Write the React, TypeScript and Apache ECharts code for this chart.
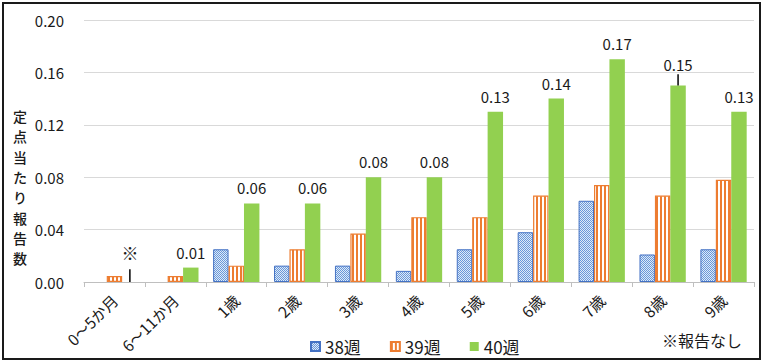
import React, { useEffect, useRef } from "react";
import * as echarts from "echarts";

const categories = ["0～5か月", "6～11か月", "1歳", "2歳", "3歳", "4歳", "5歳", "6歳", "7歳", "8歳", "9歳"];
const seriesNames = ["38週", "39週", "40週"];
const values38 = [0, 0, 0.025, 0.0125, 0.0125, 0.0085, 0.025, 0.038, 0.062, 0.021, 0.025];
const values39 = [0.0045, 0.0045, 0.0125, 0.025, 0.037, 0.0495, 0.0495, 0.066, 0.074, 0.066, 0.078];
const values40: (number | null)[] = [null, 0.011, 0.06, 0.06, 0.08, 0.08, 0.13, 0.14, 0.17, 0.15, 0.13];
// [category index, line bottom value, line top value]
const leaderLines = [
  [0, 0, 0.0098],
  [9, 0.15, 0.1585],
];
const noReportMark = "※";
const noReportNote = "※報告なし";
const yAxisTitle = "定点当たり報告数";

const FONT = "'Noto Sans CJK JP', 'Noto Sans', sans-serif";
const TXT = "#1a1a1a";
const CAT_GAP = 0.24;

function stripePattern() {
  const c = document.createElement("canvas");
  c.width = 4;
  c.height = 4;
  const ctx = c.getContext("2d")!;
  ctx.fillStyle = "#ffffff";
  ctx.fillRect(0, 0, 4, 4);
  ctx.fillStyle = "#ED7D31";
  ctx.fillRect(0, 0, 2, 4);
  return c;
}
function dotPattern() {
  const c = document.createElement("canvas");
  c.width = 2;
  c.height = 2;
  const ctx = c.getContext("2d")!;
  ctx.fillStyle = "#DEEBF7";
  ctx.fillRect(0, 0, 2, 2);
  ctx.fillStyle = "#6A97DA";
  ctx.fillRect(0, 0, 1, 1);
  ctx.fillRect(1, 1, 1, 1);
  return c;
}

export default function App() {
  const ref = useRef<HTMLDivElement>(null);
  useEffect(() => {
    if (!ref.current) return;
    const chart = echarts.init(ref.current, null, { renderer: "svg" });
    const data38 = values38.map((v) => (v === 0 ? { value: v, itemStyle: { borderWidth: 0 } } : v));
    const data40 = values40.map((v, i) =>
      categories[i] === "8歳" ? { value: v, label: { offset: [0, -6] } } : v
    );
    const titleChars = yAxisTitle.split("").map((ch, i) => ({
      type: "text",
      x: 20,
      y: 116 + i * 20.3,
      silent: true,
      style: {
        text: ch,
        fontSize: 14,
        fontWeight: 500,
        align: "center",
        verticalAlign: "middle",
        fill: TXT,
        fontFamily: FONT,
      },
    }));
    chart.setOption({
      animation: false,
      backgroundColor: "#ffffff",
      textStyle: { fontFamily: FONT },
      grid: { left: 84, right: 10, top: 20, bottom: 80 },
      legend: {
        data: seriesNames,
        left: 305,
        top: 333,
        icon: "rect",
        itemWidth: 9,
        itemHeight: 9,
        itemGap: 29,
        textStyle: { fontSize: 17, color: TXT, fontFamily: FONT },
      },
      xAxis: {
        type: "category",
        data: categories,
        axisLine: { lineStyle: { color: "#BFBFBF", width: 1 } },
        axisTick: { show: true, interval: 0, length: 5, lineStyle: { color: "#BFBFBF" } },
        axisLabel: { interval: 0, rotate: 45, fontSize: 15.5, color: TXT, margin: 15, fontFamily: FONT },
      },
      yAxis: {
        type: "value",
        min: 0,
        max: 0.2,
        interval: 0.04,
        axisLine: { show: false },
        axisTick: { show: false },
        splitLine: { lineStyle: { color: "#D9D9D9", width: 1 } },
        axisLabel: {
          formatter: (v: number) => v.toFixed(2),
          fontSize: 15,
          color: TXT,
          margin: 20,
          fontFamily: FONT,
        },
      },
      series: [
        {
          name: seriesNames[0],
          type: "bar",
          data: data38,
          barGap: "0%",
          barCategoryGap: CAT_GAP * 100 + "%",
          itemStyle: {
            color: { image: dotPattern(), repeat: "repeat" },
            borderColor: "#4472C4",
            borderWidth: 1,
          },
        },
        {
          name: seriesNames[1],
          type: "bar",
          data: values39,
          barGap: "0%",
          barCategoryGap: CAT_GAP * 100 + "%",
          itemStyle: {
            color: { image: stripePattern(), repeat: "repeat" },
            borderColor: "#ED7D31",
            borderWidth: 1.2,
          },
        },
        {
          name: seriesNames[2],
          type: "bar",
          data: data40,
          barGap: "0%",
          barCategoryGap: CAT_GAP * 100 + "%",
          itemStyle: { color: "#92D050" },
          label: {
            show: true,
            position: "top",
            distance: 8,
            fontSize: 15,
            color: TXT,
            fontFamily: FONT,
            formatter: (p: any) => Number(p.value).toFixed(2),
          },
        },
        {
          type: "custom",
          silent: true,
          z: 5,
          data: leaderLines,
          renderItem: (params: any, api: any) => {
            const p0 = api.coord([api.value(0), api.value(1)]);
            const p1 = api.coord([api.value(0), api.value(2)]);
            const band = api.size([1, 0])[0];
            const x = p0[0] + (band * (1 - CAT_GAP)) / 3;
            const children: any[] = [
              {
                type: "line",
                shape: { x1: x, y1: p0[1], x2: x, y2: p1[1] },
                style: { stroke: "#000000", lineWidth: 1.5 },
              },
            ];
            if (params.dataIndex === 0) {
              children.push({
                type: "text",
                style: {
                  text: noReportMark,
                  x,
                  y: p1[1] - 17,
                  align: "center",
                  verticalAlign: "middle",
                  fontSize: 17,
                  fill: TXT,
                  fontFamily: FONT,
                },
              });
            }
            return { type: "group", children };
          },
        },
      ],
      graphic: [
        {
          type: "rect",
          shape: { x: 3, y: 3, width: 757, height: 356 },
          style: { fill: "none", stroke: "#1a1a1a", lineWidth: 2 },
          silent: true,
        },
        ...titleChars,
        {
          type: "text",
          x: 662,
          y: 340,
          style: {
            text: noReportNote,
            fontSize: 16,
            align: "left",
            verticalAlign: "middle",
            fill: TXT,
            fontFamily: FONT,
          },
        },
      ],
    });
    return () => chart.dispose();
  }, []);
  return (
    <div
      ref={ref}
      style={{ position: "absolute", left: 0, top: 0, width: 764, height: 362 }}
    />
  );
}
